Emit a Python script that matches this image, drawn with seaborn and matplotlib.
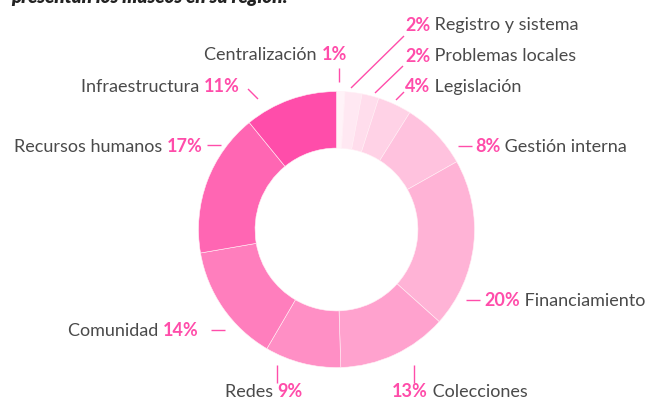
import matplotlib
matplotlib.use('Agg')
import matplotlib.pyplot as plt
import seaborn as sns

# data, clockwise from 12 o'clock
categories = ["Centralización", "Registro y sistema", "Problemas locales", "Legislación",
              "Gestión interna", "Financiamiento", "Colecciones", "Redes", "Comunidad",
              "Recursos humanos", "Infraestructura"]
shares = [1, 2, 2, 4, 8, 20, 13, 9, 14, 17, 11]
colors = ["#FFF3F8", "#FFE8F2", "#FFDDEC", "#FFD2E6", "#FFC2DE", "#FFB3D6",
          "#FFA2CE", "#FF8FC5", "#FF7EBD", "#FF66B3", "#FF4DAA"]

title = "presentan los museos en su región:"

PINK = "#FF4DAA"
GRAY = "#4A4A4A"

sns.set_theme(style="white")
plt.rcParams['font.family'] = ['Lato', 'DejaVu Sans']

W, H = 651, 402
CX, CY, R = 336.5, 230.5, 138.0


def px(x, y):
    """pixel position (origin top-left) -> data coords (pie radius = 1)"""
    return (x - CX) / R, (CY - y) / R


# label layout in pixels: pct anchor (x, y), side, leader line endpoints
layout = {
    "Centralización": ((347, 55), "left", (339, 69, 339, 83)),
    "Registro y sistema": ((405, 25), "right", (351, 89, 404, 37)),
    "Problemas locales": ((405, 56), "right", (375, 94, 403, 67)),
    "Legislación": ((405, 87), "right", (396, 101, 404, 93)),
    "Gestión interna": ((475, 147), "right", (458, 147, 472, 147)),
    "Financiamiento": ((484, 301), "right", (466, 301, 480, 301)),
    "Colecciones": ((392, 392), "right", (414, 366, 414, 384)),
    "Redes": ((303, 392), "left", (277.5, 366, 277.5, 384)),
    "Comunidad": ((199, 331), "left", (211, 331, 225, 331)),
    "Recursos humanos": ((203, 147), "left", (207, 146, 221, 146)),
    "Infraestructura": ((240, 87), "left", (248, 90, 258, 100)),
}

fig = plt.figure(figsize=(W / 100, H / 100), dpi=100)
ax = fig.add_axes([0, 0, 1, 1])
ax.pie(shares, colors=colors, startangle=90, counterclock=False, radius=1,
       wedgeprops=dict(width=0.41, edgecolor="#FFF0F6", linewidth=0.4))
x0, _ = px(0, 0)
x1, _ = px(W, 0)
_, y1 = px(0, 0)
_, y0 = px(0, H)
ax.set_xlim(x0, x1)
ax.set_ylim(y0, y1)
ax.set_aspect("equal")
ax.axis("off")

for name, val in zip(categories, shares):
    (tx, ty), side, (lx0, ly0, lx1, ly1) = layout[name]
    a, b = px(lx0, ly0)
    c, d = px(lx1, ly1)
    ax.plot([a, c], [b, d], color=PINK, lw=1, solid_capstyle="butt")
    pos = px(tx, ty)
    if side == "right":
        pct = ax.text(*pos, f"{val}%", color=PINK, fontsize=13, fontweight="bold",
                      ha="left", va="center")
        ax.annotate(" " + name, xy=(1, 0.5), xycoords=pct, color=GRAY, fontsize=13,
                    ha="left", va="center")
    else:
        pct = ax.text(*pos, f"{val}%", color=PINK, fontsize=13, fontweight="bold",
                      ha="right", va="center")
        ax.annotate(name + " ", xy=(0, 0.5), xycoords=pct, color=GRAY, fontsize=13,
                    ha="right", va="center")

fig.text(11 / W, 1 - 3.5 / H, title, fontsize=13.5, fontweight="heavy", fontstyle="italic",
         color="#222222", ha="left", va="baseline")

fig.savefig("out.png", dpi=100)
